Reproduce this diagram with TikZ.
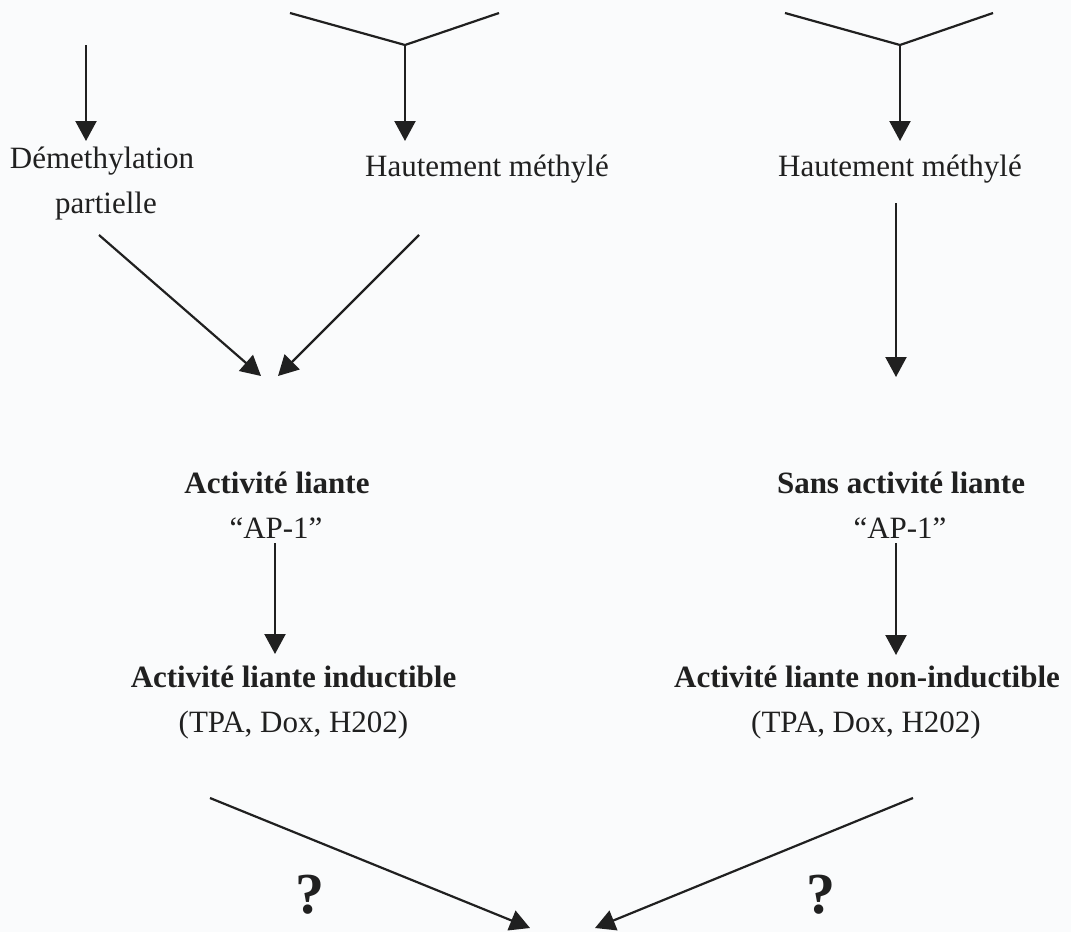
\documentclass[tikz,border=0pt]{standalone}
\usepackage{fontspec}
\setmainfont{Liberation Serif}
\usetikzlibrary{arrows.meta}
\definecolor{ink}{RGB}{32,32,32}
\definecolor{paper}{RGB}{250,251,252}
\tikzset{
  txt/.style={inner sep=0pt, anchor=base, text=ink, font=\fontsize{31}{37}\selectfont},
  btxt/.style={txt, font=\fontsize{31}{37}\selectfont\bfseries},
  qm/.style={inner sep=0pt, anchor=base, text=ink, font=\fontsize{58}{66}\selectfont\bfseries},
  link/.style={draw=ink, line width=2.2pt},
  arr/.style={link, -{Triangle[length=20pt,width=21pt]}}
}
\begin{document}
\begin{tikzpicture}[x=1pt,y=-1pt]
\fill[paper] (0,0) rectangle (1071,932);
\useasboundingbox (0,0) rectangle (1071,932);

% top-left arrow
\coordinate (a0) at (86,45);
\coordinate (a0t) at (86,141);
% Y shapes
\coordinate (y1l) at (290,13);
\coordinate (y1j) at (405,45);
\coordinate (y1r) at (499,13);
\coordinate (y1t) at (405,141);
\coordinate (y2l) at (785,13);
\coordinate (y2j) at (900,45);
\coordinate (y2r) at (993,13);
\coordinate (y2t) at (900,141);

% text nodes (positioned by baseline)
\node[txt] (dem) at (102,168) {D\'emethylation};
\node[txt] (dem2) at (106,213) {partielle};
\node[txt] (hm1) at (487,176) {Hautement m\'ethyl\'e};
\node[txt] (hm2) at (900,176) {Hautement m\'ethyl\'e};
\node[btxt] (al) at (277,493) {Activit\'e liante};
\node[txt] (ap1) at (276,538) {“AP-1”};
\node[btxt] (sal) at (901,493) {Sans activit\'e liante};
\node[txt] (ap2) at (900,538) {“AP-1”};
\node[btxt] (ali) at (293.5,687) {Activit\'e liante inductible};
\node[txt] (tpa1) at (293.5,732) {(TPA, Dox, H202)};
\node[btxt] (alni) at (867,687) {Activit\'e liante non-inductible};
\node[txt] (tpa2) at (866,732) {(TPA, Dox, H202)};
\node[qm] (q1) at (310,913) {?};
\node[qm] (q2) at (821,913) {?};

% connector end points
\coordinate (d1s) at (99,235);
\coordinate (d1t) at (261,376);
\coordinate (d2s) at (419,235);
\coordinate (d2t) at (278,376);
\coordinate (v1s) at (896,203);
\coordinate (v1t) at (896,377);
\coordinate (v2s) at (275,543);
\coordinate (v2t) at (275,654);
\coordinate (v3s) at (896,543);
\coordinate (v3t) at (896,655);
\coordinate (b1s) at (210,798);
\coordinate (b1t) at (530,928);
\coordinate (b2s) at (913,798);
\coordinate (b2t) at (595,928);

\draw[arr] (a0) -- (a0t);
\draw[link] (y1l) -- (y1j) -- (y1r);
\draw[arr] (y1j) -- (y1t);
\draw[link] (y2l) -- (y2j) -- (y2r);
\draw[arr] (y2j) -- (y2t);
\draw[arr] (d1s) -- (d1t);
\draw[arr] (d2s) -- (d2t);
\draw[arr] (v1s) -- (v1t);
\draw[arr] (v2s) -- (v2t);
\draw[arr] (v3s) -- (v3t);
\draw[arr] (b1s) -- (b1t);
\draw[arr] (b2s) -- (b2t);
\end{tikzpicture}
\end{document}
